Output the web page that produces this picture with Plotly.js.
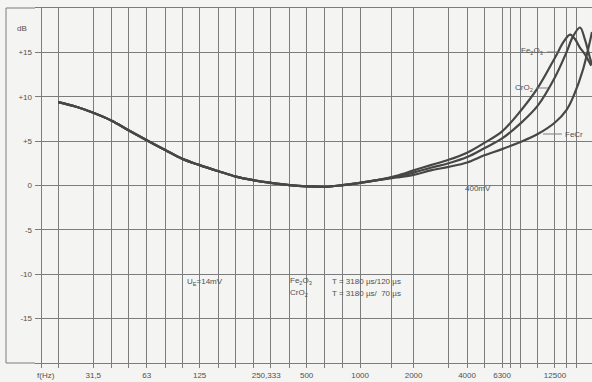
<!DOCTYPE html>
<html><head><meta charset="utf-8">
<script src="https://cdn.plot.ly/plotly-3.0.1.min.js"></script>
<style>html,body{margin:0;padding:0;background:#f4f4f2}</style>
</head><body><div id="chart" style="width:592px;height:382px"></div>
<script>
// shared low/mid-frequency part (all three tapes coincide)
const freqCommon = [20, 25, 31.5, 40, 50, 63, 80, 100, 125, 160, 200, 250, 315, 400, 500, 630, 800, 1000, 1250];
const dbCommon   = [9.4, 8.9, 8.2, 7.3, 6.2, 5.1, 4.0, 3.0, 2.3, 1.6, 1.0, 0.6, 0.3, 0.05, -0.1, -0.15, 0.05, 0.3, 0.6];

// high-frequency parts
const freqFe2O3 = [1600, 2000, 2500, 3150, 4000, 5000, 6300, 8000, 10000, 12500, 14000, 15200, 16200, 17200, 18400, 20000];
const dbFe2O3   = [1.1, 1.7, 2.3, 2.9, 3.7, 4.8, 6.1, 8.4, 11.0, 14.4, 16.2, 17.0, 16.5, 15.6, 14.8, 13.5];
const freqCrO2  = [1600, 2000, 2500, 3150, 4000, 5000, 6300, 8000, 10000, 12500, 14500, 15800, 17300, 18400, 19600, 20200];
const dbCrO2    = [1.0, 1.45, 2.0, 2.5, 3.2, 4.2, 5.3, 7.0, 9.0, 12.2, 15.0, 16.8, 17.8, 16.5, 14.5, 13.6];
const freqFeCr  = [1600, 2000, 2500, 3150, 4000, 5000, 6300, 8000, 10000, 12500, 14500, 16000, 18000, 19700, 20200];
const dbFeCr    = [0.9, 1.2, 1.7, 2.1, 2.6, 3.4, 4.1, 4.9, 5.8, 7.1, 8.5, 10.2, 13.1, 16.3, 17.3];

// axes
const gridFreqs = [16, 20, 31.5, 40, 50, 63, 80, 100, 125, 160, 200, 250, 315, 400, 500, 630, 800, 1000, 1500, 2000, 3150, 4000, 5000, 6300, 7000, 8000, 10000, 12500, 14500, 16500];
const xLabelVals = [17, 31.5, 63, 125, 296, 500, 1000, 2000, 4000, 6300, 12500];
const xLabelText = ['f(Hz)', '31,5', '63', '125', '250,333', '500', '1000', '2000', '4000', '6300', '12500'];
const yTickVals = [-15, -10, -5, 0, 5, 10, 15];
const yTickText = ['-15', '-10', '-5', '0', '+5', '+10', '+15'];

const lineCol = '#474747';
const gridCol = '#7c7c7c';
const font = {family: 'Liberation Sans Narrow, Liberation Sans, Arial, sans-serif', size: 8, color: '#505050'};

function mk(f, d) {
  return {x: freqCommon.concat(f), y: dbCommon.concat(d), type: 'scatter', mode: 'lines',
    line: {color: lineCol, width: 2.2, shape: 'spline', smoothing: 1}, hoverinfo: 'skip', showlegend: false};
}
const traces = [mk(freqFe2O3, dbFe2O3), mk(freqCrO2, dbCrO2), mk(freqFeCr, dbFeCr)];

const W = 557, H = 355;
const px = v => (v - 35) / W;
const py = v => (363 - v) / H;

const ann = (x, y, t, anchor) => ({xref: 'paper', yref: 'paper', x: px(x), y: py(y), text: t, showarrow: false,
  xanchor: anchor || 'center', yanchor: 'middle', font: font});

const layout = {
  width: 592, height: 382,
  margin: {l: 35, r: 0, t: 8, b: 19},
  paper_bgcolor: '#f4f4f2', plot_bgcolor: '#f4f4f2',
  font: font,
  xaxis: {type: 'log', range: [Math.log10(14.8), Math.log10(20200)],
    tickmode: 'array', tickvals: xLabelVals, ticktext: xLabelText, ticks: '', showgrid: false,
    ticklabelstandoff: 4,
    minor: {tickmode: 'array', tickvals: gridFreqs, showgrid: true, gridcolor: gridCol, gridwidth: 1,
      ticks: 'outside', ticklen: 4, tickcolor: gridCol},
    showline: true, linecolor: gridCol, linewidth: 1, mirror: true, zeroline: false, fixedrange: true},
  yaxis: {range: [-20, 20], tickmode: 'array', tickvals: yTickVals, ticktext: yTickText,
    showgrid: true, gridcolor: gridCol, gridwidth: 1, zeroline: false, ticks: '', showline: false,
    ticklabelstandoff: 2, fixedrange: true},
  shapes: [
    {type: 'line', xref: 'paper', yref: 'paper', x0: px(6), x1: px(6), y0: 0, y1: 1, line: {color: gridCol, width: 1}},
    {type: 'line', xref: 'paper', yref: 'paper', x0: px(6), x1: 0, y0: 1, y1: 1, line: {color: gridCol, width: 1}},
    {type: 'line', xref: 'paper', yref: 'paper', x0: px(6), x1: 0, y0: 0, y1: 0, line: {color: gridCol, width: 1}},
    {type: 'line', xref: 'paper', yref: 'paper', x0: px(547), x1: px(558), y0: py(52), y1: py(52), line: {color: gridCol, width: 1}},
    {type: 'line', xref: 'paper', yref: 'paper', x0: px(536), x1: px(548), y0: py(88), y1: py(88), line: {color: gridCol, width: 1}},
    {type: 'line', xref: 'paper', yref: 'paper', x0: px(543), x1: px(562), y0: py(134), y1: py(134), line: {color: gridCol, width: 1}}
  ],
  annotations: [
    ann(22, 28, 'dB'),
    ann(205, 282, 'U<sub>E</sub>=14mV'),
    ann(288, 281, 'Fe<sub>2</sub>O<sub>3</sub>', 'left'),
    ann(330, 281, 'T = 3180 µs/120 µs', 'left'),
    ann(288, 293, 'CrO<sub>2</sub>', 'left'),
    ann(330, 293, 'T = 3180 µs/  70 µs', 'left'),
    ann(478, 188, '400mV'),
    ann(532, 51, 'Fe<sub>2</sub>O<sub>3</sub>'),
    ann(524, 88, 'CrO<sub>2</sub>'),
    ann(574, 134, 'FeCr')
  ]
};

Plotly.newPlot('chart', traces, layout, {displayModeBar: false, staticPlot: true});
</script></body></html>
